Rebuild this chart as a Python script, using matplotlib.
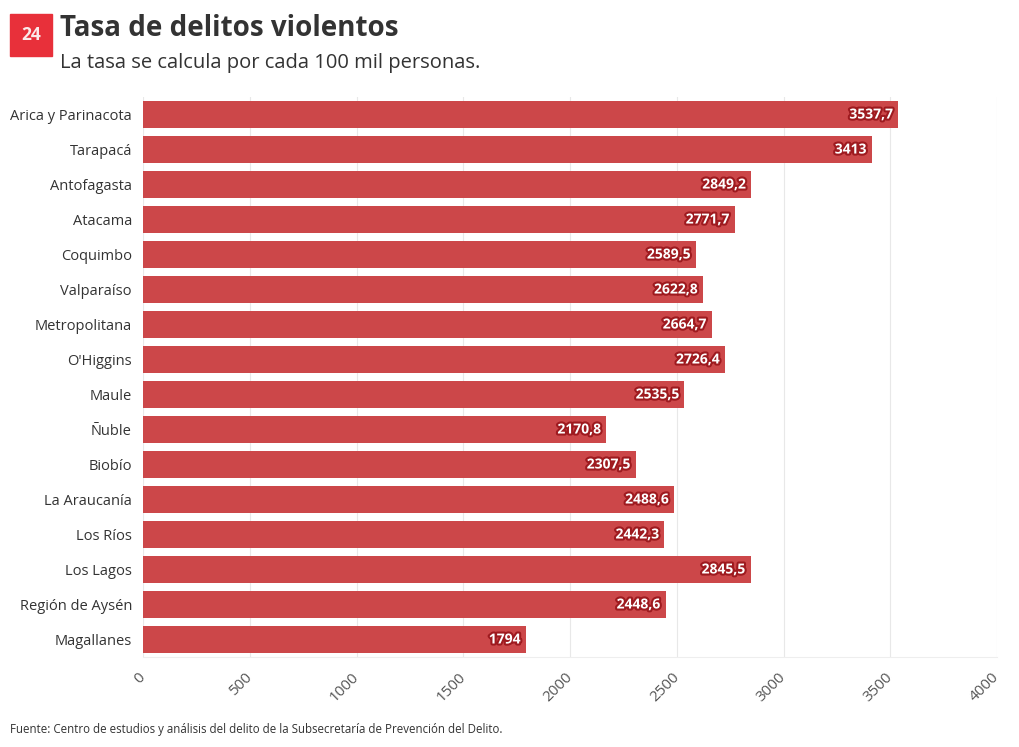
import matplotlib.pyplot as plt
import matplotlib.patheffects as pe
from matplotlib.patches import Rectangle

regiones = ["Arica y Parinacota", "Tarapacá", "Antofagasta", "Atacama", "Coquimbo",
            "Valparaíso", "Metropolitana", "O'Higgins", "Maule", "Ñuble", "Biobío",
            "La Araucanía", "Los Ríos", "Los Lagos", "Región de Aysén", "Magallanes"]
tasas = [3537.7, 3413, 2849.2, 2771.7, 2589.5, 2622.8, 2664.7, 2726.4, 2535.5,
         2170.8, 2307.5, 2488.6, 2442.3, 2845.5, 2448.6, 1794]
xticks = [0, 500, 1000, 1500, 2000, 2500, 3000, 3500, 4000]

plt.rcParams['font.family'] = ['Open Sans', 'DejaVu Sans']

fig = plt.figure(figsize=(10.2, 7.47), dpi=100)
ax = fig.add_axes([0.1402, 0.1205, 0.8373, 0.7496])

pos = list(range(len(regiones)))
ax.barh(pos, tasas, height=0.78, color='#cc4749')
ax.set_ylim(len(regiones) - 0.5, -0.5)
ax.set_xlim(0, 4000)
ax.set_yticks(pos)
ax.set_yticklabels(regiones, fontsize=10.5, color='#333333')
ax.set_xticks(xticks)
ax.set_xticklabels([str(t) for t in xticks], rotation=45, ha='right', va='center',
                   rotation_mode='anchor', fontsize=11, color='#555555')
ax.tick_params(axis='both', length=0, pad=8)
ax.tick_params(axis='x', pad=13)
ax.grid(axis='x', color='#e8e8e8', linewidth=0.8)
ax.set_axisbelow(True)
for s in ['top', 'right', 'left']:
    ax.spines[s].set_visible(False)
ax.spines['bottom'].set_color('#eeeeee')

for y, v in zip(pos, tasas):
    txt = f"{v:.1f}".replace('.', ',') if v != int(v) else str(int(v))
    ax.text(v - 25, y, txt, ha='right', va='center', color='white', fontsize=10,
            fontweight='bold',
            path_effects=[pe.withStroke(linewidth=3, foreground='#9e1a1f')])

# logo
fig.patches.append(Rectangle((10 / 1020, 1 - 56 / 747), 42 / 1020, 42 / 747,
                             transform=fig.transFigure, color='#e8303a'))
fig.text(31 / 1020, 1 - 35 / 747, "24", ha='center', va='center', color='#fbeaea',
         fontsize=12.5, fontweight='bold')

fig.text(60 / 1020, 1 - 28 / 747, "Tasa de delitos violentos", fontsize=20,
         fontweight='bold', color='#333333', va='center')
fig.text(60 / 1020, 1 - 63 / 747, "La tasa se calcula por cada 100 mil personas.",
         fontsize=14.5, color='#333333', va='center')
fig.text(10 / 1020, 1 - 730 / 747,
         "Fuente: Centro de estudios y análisis del delito de la Subsecretaría de Prevención del Delito.",
         fontsize=8.3, color='#333333', va='center')

fig.savefig("out.png", dpi=100)
